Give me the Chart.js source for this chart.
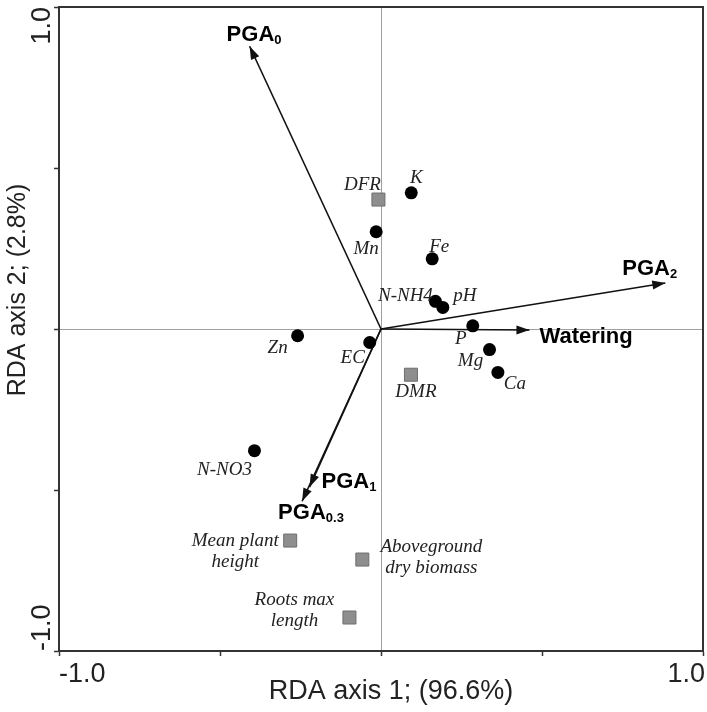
<!DOCTYPE html>
<html>
<head>
<meta charset="utf-8">
<script src="https://cdn.jsdelivr.net/npm/chart.js@4.4.1/dist/chart.umd.min.js"></script>
<style>
  html, body { margin: 0; padding: 0; background: #fff; }
  #wrap { width: 707px; height: 712px; }
</style>
</head>
<body>
<div id="wrap"><canvas id="rda"></canvas></div>
<script>
// soil variables (black circles)
const soilNames = ['K', 'Mn', 'Fe', 'N-NH4', 'pH', 'P', 'Mg', 'Ca', 'Zn', 'EC', 'N-NO3'];
const soilX = [0.094, -0.015, 0.159, 0.169, 0.192, 0.285, 0.337, 0.363, -0.259, -0.035, -0.393];
const soilY = [0.423, 0.302, 0.218, 0.086, 0.067, 0.010, -0.064, -0.135, -0.021, -0.042, -0.378];

// plant traits (grey squares)
const traitNames = ['DFR', 'DMR', 'Mean plant height', 'Aboveground dry biomass', 'Roots max length'];
const traitX = [-0.008, 0.093, -0.282, -0.058, -0.098];
const traitY = [0.402, -0.142, -0.657, -0.716, -0.896];

// explanatory variables (arrows)
const arrowNames = ['PGA', 'PGA', 'PGA', 'PGA', 'Watering'];
const arrowSubs = ['0', '2', '1', '0.3', ''];
const arrowX = [-0.408, 0.883, -0.222, -0.245, 0.461];
const arrowY = [0.878, 0.143, -0.491, -0.535, -0.003];

const axisEnds = ['-1.0', '1.0'];
const xTitle = 'RDA axis 1; (96.6%)';
const yTitle = 'RDA axis 2; (2.8%)';

// label placement, pixels from the mark
const soilOffsets = [[5, -15], [-10, 17], [7, -12], [-30, -5], [22, -11], [-12, 13], [-19, 11], [17, 12], [-20, 12], [-17, 15], [-30, 19]];
const traitLines = [['DFR'], ['DMR'], ['Mean plant', 'height'], ['Aboveground', 'dry biomass'], ['Roots max', 'length']];
const traitOffsets = [[-16, -15], [5, 17], [-55, 0], [69, -13], [-55, -18]];
const arrowOffsets = [[-23, -5], [-43, -8], [12, 1], [-24, 18], [10, 13]];

const italic = 'italic 19px "Liberation Serif", "DejaVu Serif", serif';
const bold = 'bold 22px "Liberation Sans", Arial, sans-serif';
const subFont = 'bold 13px "Liberation Sans", Arial, sans-serif';
const axisFont = '27px "Liberation Sans", Arial, sans-serif';

const datasets = [
  {
    label: 'soil',
    data: soilX.map((x, i) => ({ x: x, y: soilY[i] })),
    pointStyle: 'circle',
    pointRadius: 6.5,
    backgroundColor: '#000',
    borderColor: '#000',
    borderWidth: 0
  },
  {
    label: 'traits',
    data: traitX.map((x, i) => ({ x: x, y: traitY[i] })),
    pointStyle: 'rect',
    pointRadius: 9.2,
    backgroundColor: '#8e8e8e',
    borderColor: '#6e6e6e',
    borderWidth: 1
  }
];
arrowX.forEach((x, i) => {
  datasets.push({
    label: 'arrow' + i,
    data: [{ x: 0, y: 0 }, { x: x, y: arrowY[i] }],
    showLine: true,
    pointRadius: 0,
    borderColor: '#111',
    borderWidth: 1.6,
    fill: false
  });
});

const rdaLabels = {
  id: 'rdaLabels',
  beforeDatasetsDraw(chart) {
    const { ctx, chartArea: a } = chart;
    ctx.save();
    ctx.strokeStyle = '#333';
    ctx.lineWidth = 2;
    ctx.strokeRect(a.left, a.top, a.right - a.left, a.bottom - a.top);
    ctx.restore();
  },
  afterDatasetsDraw(chart) {
    const ctx = chart.ctx;
    ctx.save();

    // arrow heads and arrow labels
    arrowX.forEach((x, i) => {
      const pts = chart.getDatasetMeta(2 + i).data;
      const p0 = pts[0], p1 = pts[1];
      const ang = Math.atan2(p1.y - p0.y, p1.x - p0.x);
      const len = 13, half = 4.5;
      ctx.fillStyle = '#111';
      ctx.beginPath();
      ctx.moveTo(p1.x, p1.y);
      ctx.lineTo(p1.x - len * Math.cos(ang) + half * Math.sin(ang), p1.y - len * Math.sin(ang) - half * Math.cos(ang));
      ctx.lineTo(p1.x - len * Math.cos(ang) - half * Math.sin(ang), p1.y - len * Math.sin(ang) + half * Math.cos(ang));
      ctx.closePath();
      ctx.fill();

      const tx = p1.x + arrowOffsets[i][0], ty = p1.y + arrowOffsets[i][1];
      ctx.fillStyle = '#000';
      ctx.textAlign = 'left';
      ctx.textBaseline = 'alphabetic';
      ctx.font = bold;
      ctx.fillText(arrowNames[i], tx, ty);
      if (arrowSubs[i]) {
        const w = ctx.measureText(arrowNames[i]).width;
        ctx.font = subFont;
        ctx.fillText(arrowSubs[i], tx + w, ty + 3);
      }
    });

    // point labels
    ctx.font = italic;
    ctx.fillStyle = '#222';
    ctx.textAlign = 'center';
    ctx.textBaseline = 'middle';
    chart.getDatasetMeta(0).data.forEach((el, i) => {
      ctx.fillText(soilNames[i], el.x + soilOffsets[i][0], el.y + soilOffsets[i][1]);
    });
    chart.getDatasetMeta(1).data.forEach((el, i) => {
      traitLines[i].forEach((line, k) => {
        ctx.fillText(line, el.x + traitOffsets[i][0], el.y + traitOffsets[i][1] + k * 21);
      });
    });
    ctx.restore();
  },
  afterDraw(chart) {
    const { ctx, chartArea: a } = chart;
    ctx.save();
    ctx.fillStyle = '#222';
    ctx.font = axisFont;
    ctx.textBaseline = 'alphabetic';
    // x axis end labels
    ctx.textAlign = 'left';
    ctx.fillText(axisEnds[0], a.left, a.bottom + 31);
    ctx.textAlign = 'right';
    ctx.fillText(axisEnds[1], a.right + 2, a.bottom + 31);
    // x title
    ctx.textAlign = 'center';
    ctx.fillText(xTitle, 391, 699);
    // y axis end labels, rotated
    ctx.translate(50, 0);
    ctx.rotate(-Math.PI / 2);
    ctx.textAlign = 'left';
    ctx.fillText(axisEnds[0], -a.bottom, 0);
    ctx.textAlign = 'right';
    ctx.fillText(axisEnds[1], -a.top, 0);
    ctx.restore();
    // y title
    ctx.save();
    ctx.fillStyle = '#222';
    ctx.font = '25px "Liberation Sans", Arial, sans-serif';
    ctx.translate(25, 290);
    ctx.rotate(-Math.PI / 2);
    ctx.textAlign = 'center';
    ctx.textBaseline = 'alphabetic';
    ctx.fillText(yTitle, 0, 0);
    ctx.restore();
  }
};

const gridAt0 = c => (c.tick && c.tick.value === 0 ? '#a0a0a0' : 'rgba(0,0,0,0)');

new Chart(document.getElementById('rda'), {
  type: 'scatter',
  data: { datasets: datasets },
  options: {
    responsive: true,
    maintainAspectRatio: false,
    animation: false,
    layout: { autoPadding: false, padding: { top: 7, right: 4, left: 0, bottom: 0 } },
    plugins: { legend: { display: false }, tooltip: { enabled: false } },
    scales: {
      x: {
        min: -1, max: 1,
        ticks: { display: false, stepSize: 0.5 },
        grid: { color: gridAt0, lineWidth: 1, tickColor: '#333', tickLength: 5, tickWidth: 1.5 },
        border: { display: true, color: '#333', width: 2 },
        afterFit: s => { s.height = 61; }
      },
      y: {
        min: -1, max: 1,
        ticks: { display: false, stepSize: 0.5 },
        grid: { color: gridAt0, lineWidth: 1, tickColor: '#333', tickLength: 5, tickWidth: 1.5 },
        border: { display: true, color: '#333', width: 2 },
        afterFit: s => { s.width = 59; }
      }
    }
  },
  plugins: [rdaLabels]
});
</script>
</body>
</html>
